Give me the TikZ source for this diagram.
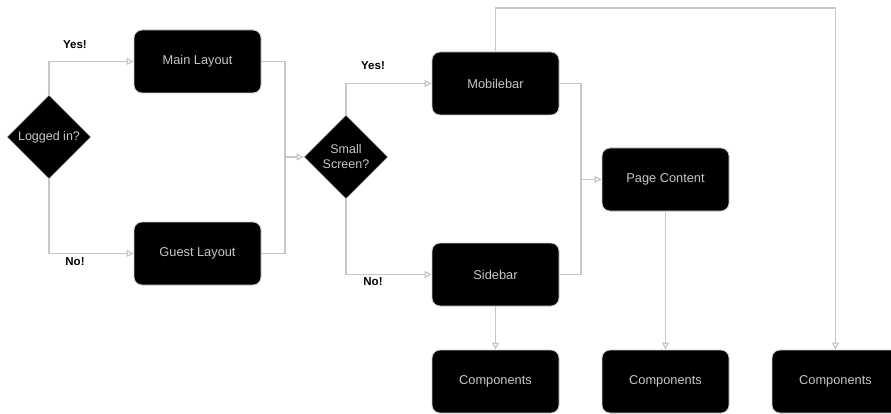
\documentclass[tikz,border=0pt]{standalone}
\usepackage{fontspec}
\setmainfont{Liberation Sans}
\usetikzlibrary{shapes.geometric,arrows.meta}

\begin{document}
\begin{tikzpicture}[x=1pt,y=-1pt,
  box/.style={draw=black!20, fill=black, text=black!22, line width=0.8pt,
    rounded corners=8pt, minimum width=127pt, minimum height=63pt,
    font=\fontsize{12.8}{15}\selectfont},
  check/.style={diamond, draw=black!20, fill=black, text=black!22, line width=0.8pt,
    minimum width=84pt, minimum height=84pt, inner sep=0pt, align=center,
    font=\fontsize{12.5}{15}\selectfont},
  wire/.style={draw=black!22, line width=1.2pt},
  link/.style={wire, -{Triangle[open,length=7pt,width=7pt]}},
  answer/.style={font=\bfseries\fontsize{11.5}{13}\selectfont}]
\useasboundingbox (0,0) rectangle (891,414);

% decisions
\node[check] (logged) at (49,137) {Logged in?};
\node[check] (small) at (346,157) {Small\\Screen?};

% layouts
\node[box] (main) at (197.5,61.5) {Main Layout};
\node[box] (guest) at (197.5,253.5) {Guest Layout};
\node[box] (mobile) at (495.5,83.5) {Mobilebar};
\node[box] (side) at (495.5,274.5) {Sidebar};
\node[box] (page) at (665.5,179.5) {Page Content};
\node[box] (comp1) at (495.5,381.5) {Components};
\node[box] (comp2) at (665.5,381.5) {Components};
\node[box] (comp3) at (835.5,381.5) {Components};

\coordinate (join1) at (285,157);
\coordinate (join2) at (581,179.5);
\coordinate (over) at (835.5,8);

\draw[link] (logged.north) |- (main.west);
\draw[link] (logged.south) |- (guest.west);
\draw[wire] (main.east) -| (join1);
\draw[wire] (guest.east) -| (join1);
\draw[link] (join1) -- (small.west);
\draw[link] (small.north) |- (mobile.west);
\draw[link] (small.south) |- (side.west);
\draw[wire] (mobile.east) -| (join2);
\draw[wire] (side.east) -| (join2);
\draw[link] (join2) -- (page.west);
\draw[link] (side.south) -- (comp1.north);
\draw[link] (page.south) -- (comp2.north);
\draw[link] (mobile.north) |- (over) -- (comp3.north);

\node[answer] (yes1) at (75,45) {Yes!};
\node[answer] (no1) at (75,262) {No!};
\node[answer] (yes2) at (373,66) {Yes!};
\node[answer] (no2) at (373,282) {No!};
\end{tikzpicture}
\end{document}
